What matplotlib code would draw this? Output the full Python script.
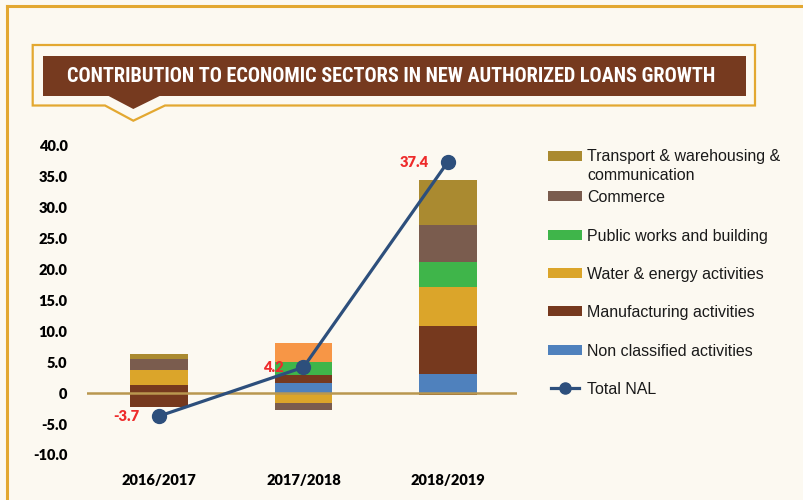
import numpy as np
import matplotlib.pyplot as plt
from matplotlib.patches import Rectangle, Polygon
from matplotlib.lines import Line2D

# chart data
years = ['2016/2017', '2017/2018', '2018/2019']
non_classified = [0.0, 1.6, 3.1]
manufacturing = [1.4, 1.3, 7.8]
water_energy = [2.4, -1.6, 6.3]
public_works = [0.0, 2.1, 4.0]
commerce = [1.7, -1.1, 6.0]
transport = [0.8, 0.0, 7.3]
other_orange = [0.0, 3.2, 0.0]   # segment with no legend entry
other_brown = [-2.2, 0.0, -0.3]  # segment with no legend entry
total_nal = [-3.7, 4.2, 37.4]

ytick_values = [40, 35, 30, 25, 20, 15, 10, 5, 0, -5, -10]
ytick_labels = ['40.0', '35.0', '30.0', '25.0', '20.0', '15.0', '10.0',
                '5.0', '0', '-5.0', '-10.0']

title = 'CONTRIBUTION TO ECONOMIC SECTORS IN NEW AUTHORIZED LOANS GROWTH'

legend_labels = ['Transport & warehousing &\ncommunication', 'Commerce',
                 'Public works and building', 'Water & energy activities',
                 'Manufacturing activities', 'Non classified activities']

BG = '#FCF9F1'
GOLD = '#E3A831'
BROWN = '#763A1F'
C_TRANSPORT = '#AA8A30'
C_COMMERCE = '#7A5C4E'
C_PUBLIC = '#3FB54A'
C_WATER = '#DBA52A'
C_MANUF = '#76391E'
C_NONCLASS = '#4F81BD'
C_ORANGE = '#F79646'
C_LINE = '#2D4F7C'
C_RED = '#EE2B2B'

W, H = 804, 500


def fx(x):
    return x / W


def fy(y):
    return 1 - y / H


fig = plt.figure(figsize=(W / 100, H / 100), dpi=100, facecolor=BG)

# frame lines (top and left)
fig.add_artist(Line2D([fx(7), fx(804)], [fy(6), fy(6)], color=GOLD, lw=2.2,
                      transform=fig.transFigure))
fig.add_artist(Line2D([fx(7), fx(7)], [fy(6), fy(500)], color=GOLD, lw=2.2,
                      transform=fig.transFigure))

# title banner
outline = [(32.7, 45), (755, 45), (755, 105.5), (165, 105.5), (133.3, 120.7),
           (105, 105.5), (32.7, 105.5)]
fig.add_artist(Polygon([(fx(a), fy(b)) for a, b in outline], closed=True,
                       fill=False, edgecolor=GOLD, lw=1.6,
                       transform=fig.transFigure))
fig.add_artist(Rectangle((fx(42.6), fy(95.5)), fx(746) - fx(42.6),
                         fy(55.7) - fy(95.5), facecolor=BROWN, edgecolor='none',
                         transform=fig.transFigure))
tri = [(106.7, 95), (161.7, 95), (133.3, 109)]
fig.add_artist(Polygon([(fx(a), fy(b)) for a, b in tri], closed=True,
                       facecolor=BROWN, edgecolor='none',
                       transform=fig.transFigure))
fig.text(fx(391.5), fy(76.5), title, color='white', fontsize=14.6,
         fontweight='bold', fontstretch='condensed',
         family=['Roboto Condensed', 'Roboto', 'DejaVu Sans'],
         ha='center', va='center')

# main chart
y_top, y_bot = 41, -11
zero_px, scale = 393.2, 6.18
ax = fig.add_axes([fx(87), fy(zero_px + (-y_bot) * scale),
                   (517 - 87) / W, (y_top - y_bot) * scale / H])
ax.set_facecolor(BG)
ax.patch.set_alpha(0)

x = np.arange(len(years))
width = 0.4
series = [(other_brown, C_MANUF), (non_classified, C_NONCLASS),
          (manufacturing, C_MANUF), (water_energy, C_WATER),
          (public_works, C_PUBLIC), (commerce, C_COMMERCE),
          (transport, C_TRANSPORT), (other_orange, C_ORANGE)]
pos_base = np.zeros(len(years))
neg_base = np.zeros(len(years))
for vals, col in series:
    v = np.array(vals)
    bottoms = np.where(v >= 0, pos_base, neg_base)
    ax.bar(x, v, width, bottom=bottoms, color=col, linewidth=0, zorder=2)
    pos_base = pos_base + np.where(v > 0, v, 0)
    neg_base = neg_base + np.where(v < 0, v, 0)

ax.axhline(0, color='#B9974F', lw=1.8, zorder=3)

ax.plot(x, total_nal, color=C_LINE, lw=2.3, marker='o', markersize=10,
        zorder=4)
for xi, val in zip(x, total_nal):
    ax.annotate('{:.1f}'.format(val), (xi, val), xytext=(-14, 0),
                textcoords='offset points', ha='right', va='center',
                color=C_RED, fontsize=10.5, fontweight='heavy',
                family=['Lato', 'DejaVu Sans'])

ax.set_xlim(-0.5, 2.48)
ax.set_ylim(y_bot, y_top)
ax.set_yticks(ytick_values)
ax.set_yticklabels(ytick_labels, fontsize=10.5, fontweight='heavy',
                   family=['Lato', 'DejaVu Sans'])
ax.set_xticks(x)
ax.set_xticklabels(years, fontsize=10.5, fontweight='heavy',
                   family=['Lato', 'DejaVu Sans'])
ax.tick_params(axis='y', length=0, pad=14)
ax.tick_params(axis='x', length=0, pad=9)
for s in ax.spines.values():
    s.set_visible(False)

# legend drawn by hand
legend_colors = [C_TRANSPORT, C_COMMERCE, C_PUBLIC, C_WATER, C_MANUF, C_NONCLASS]
row_y = [156, 196, 235, 273, 311, 350]
for lab, col, yy in zip(legend_labels, legend_colors, row_y):
    fig.add_artist(Rectangle((fx(548), fy(yy + 5)), 34 / W, 10 / H,
                             facecolor=col, edgecolor='none',
                             transform=fig.transFigure))
    for k, line in enumerate(lab.split('\n')):
        fig.text(fx(587), fy(yy + 1 + 19 * k), line, fontsize=11.5,
                 color='#1A1A1A', family=['Liberation Sans', 'DejaVu Sans'],
                 ha='left', va='center')
fig.add_artist(Line2D([fx(551), fx(579)], [fy(388), fy(388)], color=C_LINE,
                      lw=2.3, transform=fig.transFigure))
fig.add_artist(Line2D([fx(565)], [fy(388)], color=C_LINE, marker='o',
                      markersize=8, linestyle='none',
                      transform=fig.transFigure))
fig.text(fx(587), fy(389), 'Total NAL', fontsize=11.5, color='#1A1A1A',
         family=['Liberation Sans', 'DejaVu Sans'], ha='left', va='center')

fig.savefig('out.png', dpi=100, facecolor=BG)
